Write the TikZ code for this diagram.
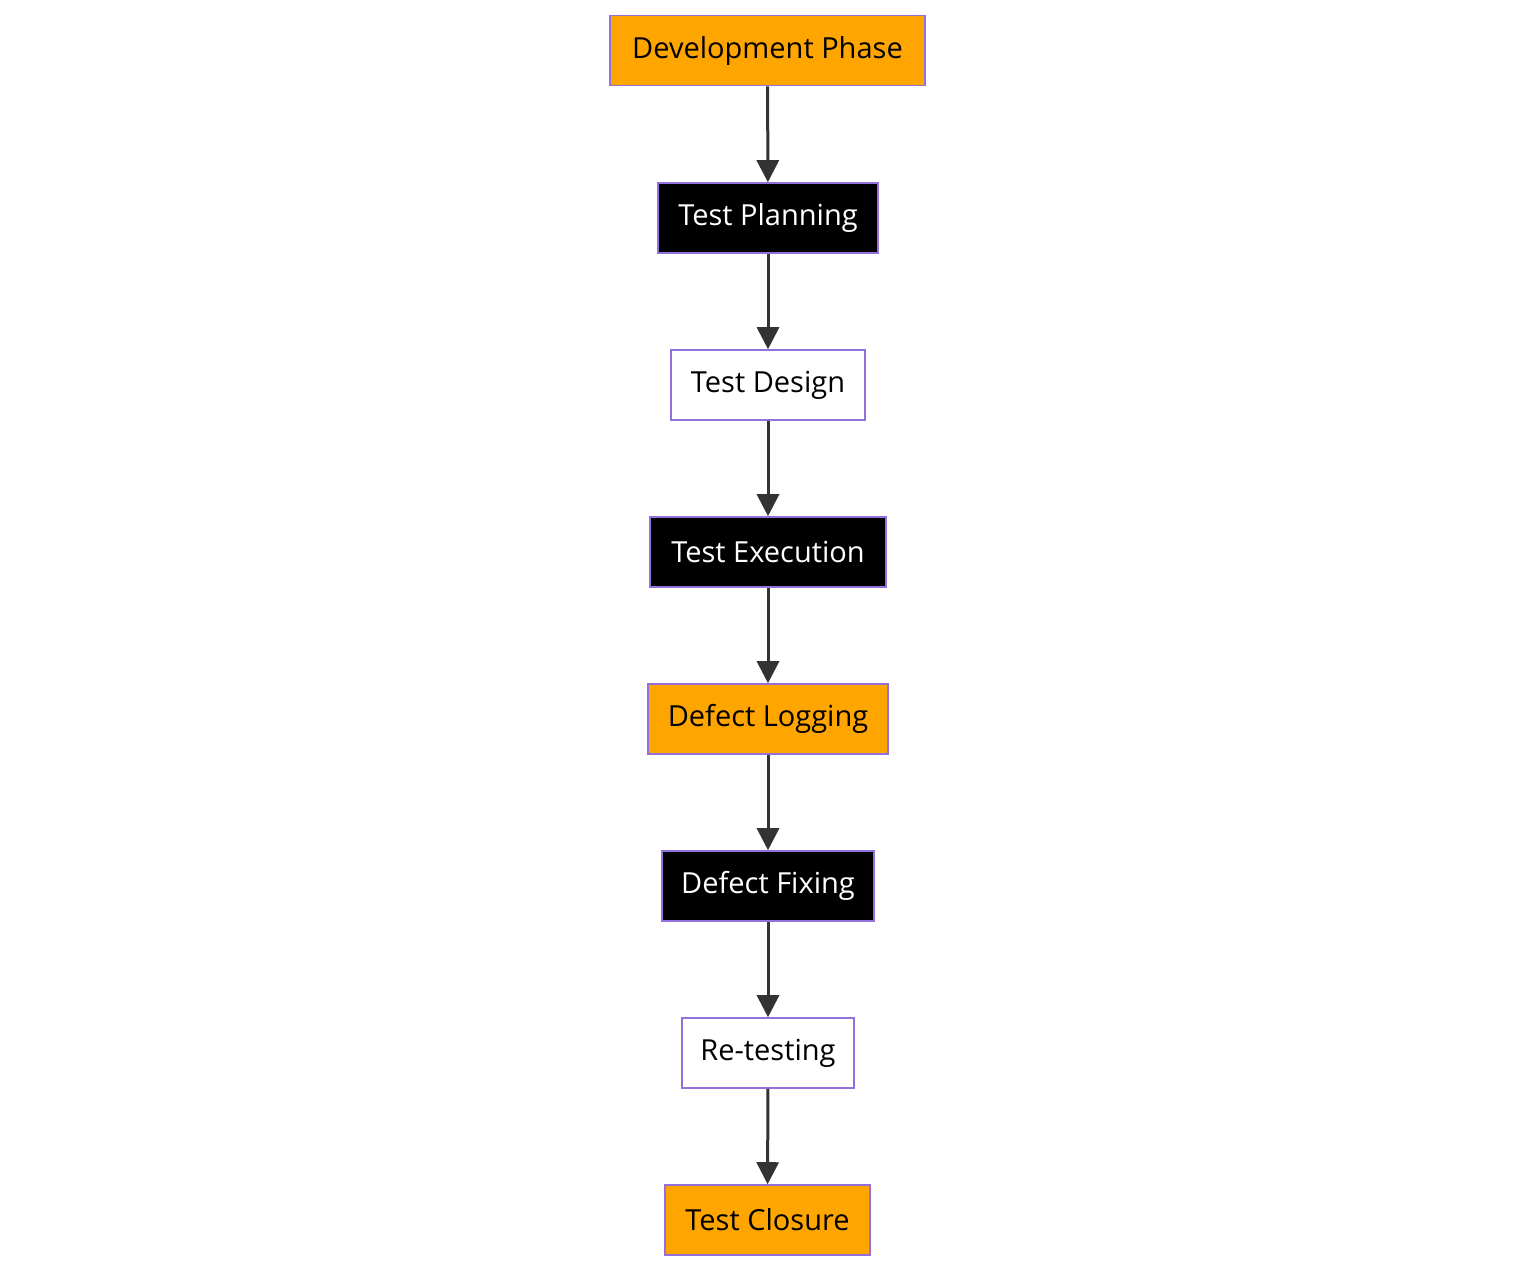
\documentclass[tikz,border=0pt]{standalone}
\usepackage{fontspec}
\setmainfont{Open Sans}
\usetikzlibrary{arrows.meta}
\definecolor{orng}{HTML}{FFA500}
\definecolor{brd}{HTML}{9370DB}
\tikzset{
 box/.style={draw=brd,line width=0.8pt,minimum height=35pt,inner sep=0pt,font=\fontsize{14.5}{17}\selectfont},
 ob/.style={box,fill=orng,text=black},
 bb/.style={box,fill=black,text=white},
 wb/.style={box,fill=white,text=black},
 conn/.style={draw=black!80,line width=1.5pt,-{Triangle[length=11pt,width=11pt]}}
}
\begin{document}
\begin{tikzpicture}[x=0.5pt,y=-0.5pt]
\useasboundingbox[fill=white] (0,0) rectangle (1536,1271);
\node[ob,minimum width=157.5pt] (a) at (767.5,50.5) {Development Phase};
\node[bb,minimum width=110pt] (b) at (768,218) {Test Planning};
\node[wb,minimum width=97pt] (c) at (768,385) {Test Design};
\node[bb,minimum width=118pt] (d) at (768,552) {Test Execution};
\node[ob,minimum width=120pt] (e) at (768,719) {Defect Logging};
\node[bb,minimum width=106pt] (f) at (768,886) {Defect Fixing};
\node[wb,minimum width=86pt] (g) at (768,1053) {Re-testing};
\node[ob,minimum width=102.5pt] (h) at (767.5,1220) {Test Closure};
\foreach \u/\v in {a/b,b/c,c/d,d/e,e/f,f/g,g/h} \draw[conn] (\u) -- (\v);
\end{tikzpicture}
\end{document}
